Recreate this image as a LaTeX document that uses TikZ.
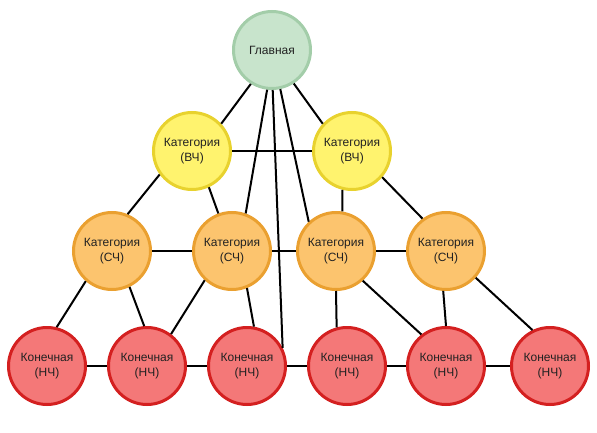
\documentclass[tikz,border=0pt]{standalone}
\usepackage{fontspec}
\setmainfont{Liberation Sans}
\definecolor{gfill}{HTML}{C8E4CC}
\definecolor{gdraw}{HTML}{A3CDA9}
\definecolor{yfill}{HTML}{FFF36E}
\definecolor{ydraw}{HTML}{E8D22E}
\definecolor{ofill}{HTML}{FCC46E}
\definecolor{odraw}{HTML}{EAA030}
\definecolor{rfill}{HTML}{F47878}
\definecolor{rdraw}{HTML}{D42020}
\definecolor{txt}{HTML}{222222}
\tikzset{
  bubble/.style={circle, minimum size=77pt, inner sep=0pt, line width=3pt, align=center,
    text=txt, font=\fontsize{12}{15}\selectfont},
  topnode/.style={bubble, fill=gfill, draw=gdraw},
  hinode/.style={bubble, fill=yfill, draw=ydraw},
  midnode/.style={bubble, fill=ofill, draw=odraw},
  lownode/.style={bubble, fill=rfill, draw=rdraw},
  link/.style={line width=2pt, black}
}
\begin{document}
\begin{tikzpicture}[x=1pt,y=-1pt]
\useasboundingbox (0,0) rectangle (597,433);
% nodes
\node[topnode] (g) at (272,50) {Главная};
\node[hinode] (b1) at (192,151) {Категория\\(ВЧ)};
\node[hinode] (b2) at (352,151) {Категория\\(ВЧ)};
\node[midnode] (m1) at (112,251) {Категория\\(СЧ)};
\node[midnode] (m2) at (232,251) {Категория\\(СЧ)};
\node[midnode] (m3) at (336,251) {Категория\\(СЧ)};
\node[midnode] (m4) at (446,251) {Категория\\(СЧ)};
\node[lownode] (l1) at (47,366) {Конечная\\(НЧ)};
\node[lownode] (l2) at (147,366) {Конечная\\(НЧ)};
\node[lownode] (l3) at (247,366) {Конечная\\(НЧ)};
\node[lownode] (l4) at (347,366) {Конечная\\(НЧ)};
\node[lownode] (l5) at (446,366) {Конечная\\(НЧ)};
\node[lownode] (l6) at (550,366) {Конечная\\(НЧ)};
% connectors
\draw[link] (g.238) -- (b1.43);
\draw[link] (g.303) -- (b2.137);
\draw[link] (g.263) -- (m2.70);
\draw[link] (g.271) -- (l3.27);
\draw[link] (g.282) -- (m3.133);
\draw[link] (b1.east) -- (b2.west);
\draw[link] (b1.216) -- (m1.67);
\draw[link] (b1.295) -- (m2.110);
\draw[link] (b2.256) -- (m3.81);
\draw[link] (b2.319) -- (m4.126);
\draw[link] (m1.east) -- (m2.west);
\draw[link] (m2.east) -- (m3.west);
\draw[link] (m3.east) -- (m4.west);
\draw[link] (m1.229) -- (l1.76);
\draw[link] (m1.296) -- (l2.94);
\draw[link] (m2.227) -- (l2.53);
\draw[link] (m2.292) -- (l3.80);
\draw[link] (m3.south) -- (l4.105);
\draw[link] (m3.312) -- (l5.128);
\draw[link] (m4.266) -- (l5.north);
\draw[link] (m4.318) -- (l6.116);
\draw[link] (l1.east) -- (l2.west);
\draw[link] (l2.east) -- (l3.west);
\draw[link] (l3.east) -- (l4.west);
\draw[link] (l4.east) -- (l5.west);
\draw[link] (l5.east) -- (l6.west);
\end{tikzpicture}
\end{document}
